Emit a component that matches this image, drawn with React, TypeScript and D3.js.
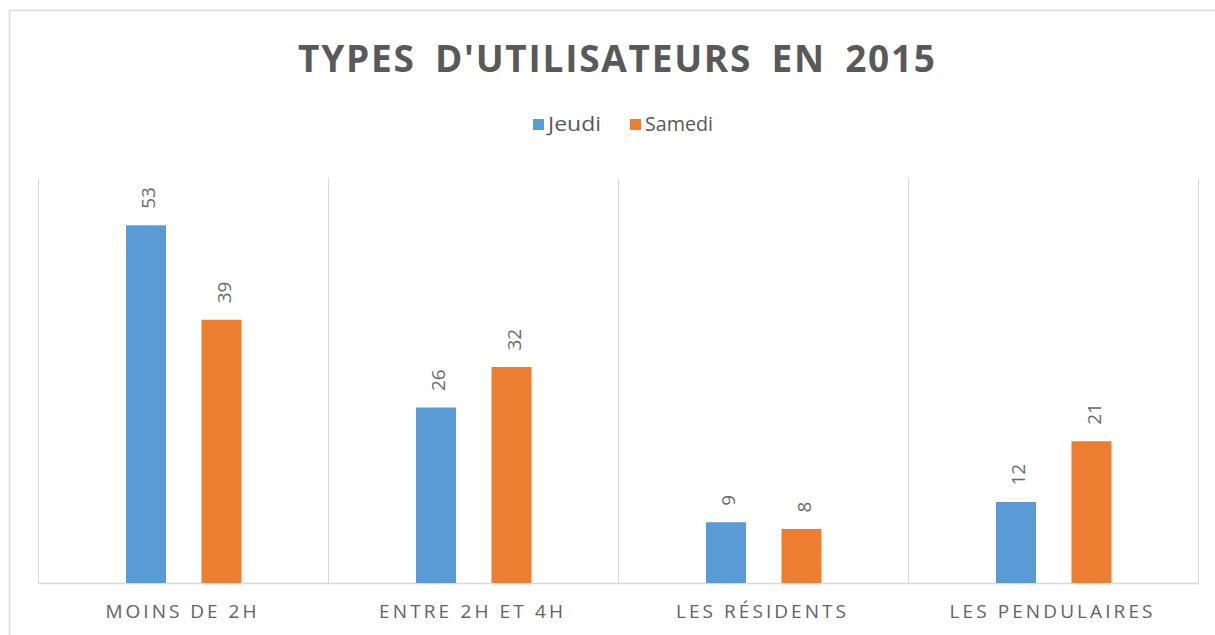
import React from "react";
import * as d3 from "d3";

const categories = ["MOINS DE 2H", "ENTRE 2H ET 4H", "LES RÉSIDENTS", "LES PENDULAIRES"];
const seriesNames = ["Jeudi", "Samedi"];
const jeudi = [53, 26, 9, 12];
const samedi = [39, 32, 8, 21];
const seriesColors = ["#5b9bd5", "#ed7d31"];
const title = "TYPES D'UTILISATEURS EN 2015";
const categoryLabelWidths = [151, 184, 170, 203];

const W = 1215;
const H = 635;
const plot = { left: 38, right: 1198, top: 178, bottom: 583 };
const font = "'Open Sans', 'DejaVu Sans', sans-serif";
const textColor = "#595959";
const gridColor = "#d9d9d9";

export default function App() {
  const x0 = d3.scaleBand<string>().domain(categories).range([plot.left, plot.right]).padding(0);
  const x1 = d3.scaleBand<string>().domain(seriesNames).range([88, 203.5]).paddingInner(0.47).paddingOuter(0);
  const y = d3.scaleLinear().domain([0, 60]).range([plot.bottom, plot.top]);
  const values = [jeudi, samedi];

  const dividers = categories.map((c) => x0(c) as number).concat([plot.right]);

  return (
    <svg
      width={W}
      height={H}
      style={{ position: "absolute", left: 0, top: 0, display: "block", background: "#fff" }}
      fontFamily={font}
    >
      <rect x={0} y={0} width={W} height={H} fill="#fff" />
      {/* chart border */}
      <line x1={9.5} x2={W} y1={10.5} y2={10.5} stroke={gridColor} strokeWidth={1.5} />
      <line x1={9.5} x2={9.5} y1={10.5} y2={H} stroke={gridColor} strokeWidth={1.5} />

      {/* title */}
      <text
        x={616.5}
        y={72}
        textAnchor="middle"
        fontSize={37}
        fontWeight="bold"
        fill={textColor}
        textLength={637}
        lengthAdjust="spacing"
        style={{ wordSpacing: "8px" }}
      >
        {title}
      </text>

      {/* legend */}
      <g>
        <rect x={533} y={119} width={11} height={11} fill={seriesColors[0]} />
        <text x={548} y={131} fontSize={20} fill={textColor} textLength={53} lengthAdjust="spacingAndGlyphs">
          {seriesNames[0]}
        </text>
        <rect x={630} y={119} width={11} height={11} fill={seriesColors[1]} />
        <text x={645} y={131} fontSize={20} fill={textColor} textLength={68} lengthAdjust="spacingAndGlyphs">
          {seriesNames[1]}
        </text>
      </g>

      {/* vertical dividers */}
      {dividers.map((dx, i) => (
        <line
          key={"d" + i}
          x1={Math.round(dx) + 0.5}
          x2={Math.round(dx) + 0.5}
          y1={plot.top}
          y2={plot.bottom}
          stroke={gridColor}
          strokeWidth={1}
        />
      ))}
      {/* baseline */}
      <line x1={plot.left} x2={plot.right + 1} y1={plot.bottom + 0.5} y2={plot.bottom + 0.5} stroke={gridColor} strokeWidth={1.5} />

      {/* bars */}
      {categories.map((c, ci) =>
        seriesNames.map((s, si) => {
          const v = values[si][ci];
          const bx = (x0(c) as number) + (x1(s) as number);
          const bw = x1.bandwidth();
          const top = y(v);
          const cx = bx + bw / 2;
          return (
            <g key={c + s}>
              <rect x={bx} y={top} width={bw} height={plot.bottom - top} fill={seriesColors[si]} />
              <text
                transform={`translate(${cx + 1.5},${top - 16.5}) rotate(-90)`}
                dy="0.4em"
                fontSize={19}
                fill="#6a6a6a"
                textAnchor="start"
              >
                {v}
              </text>
            </g>
          );
        })
      )}

      {/* category labels */}
      {categories.map((c, ci) => (
        <text
          key={"l" + c}
          x={(x0(c) as number) + x0.bandwidth() / 2 - 2}
          y={617.5}
          textAnchor="middle"
          fontSize={19}
          fill="#636363"
          textLength={categoryLabelWidths[ci]}
          lengthAdjust="spacing"
        >
          {c}
        </text>
      ))}
    </svg>
  );
}
